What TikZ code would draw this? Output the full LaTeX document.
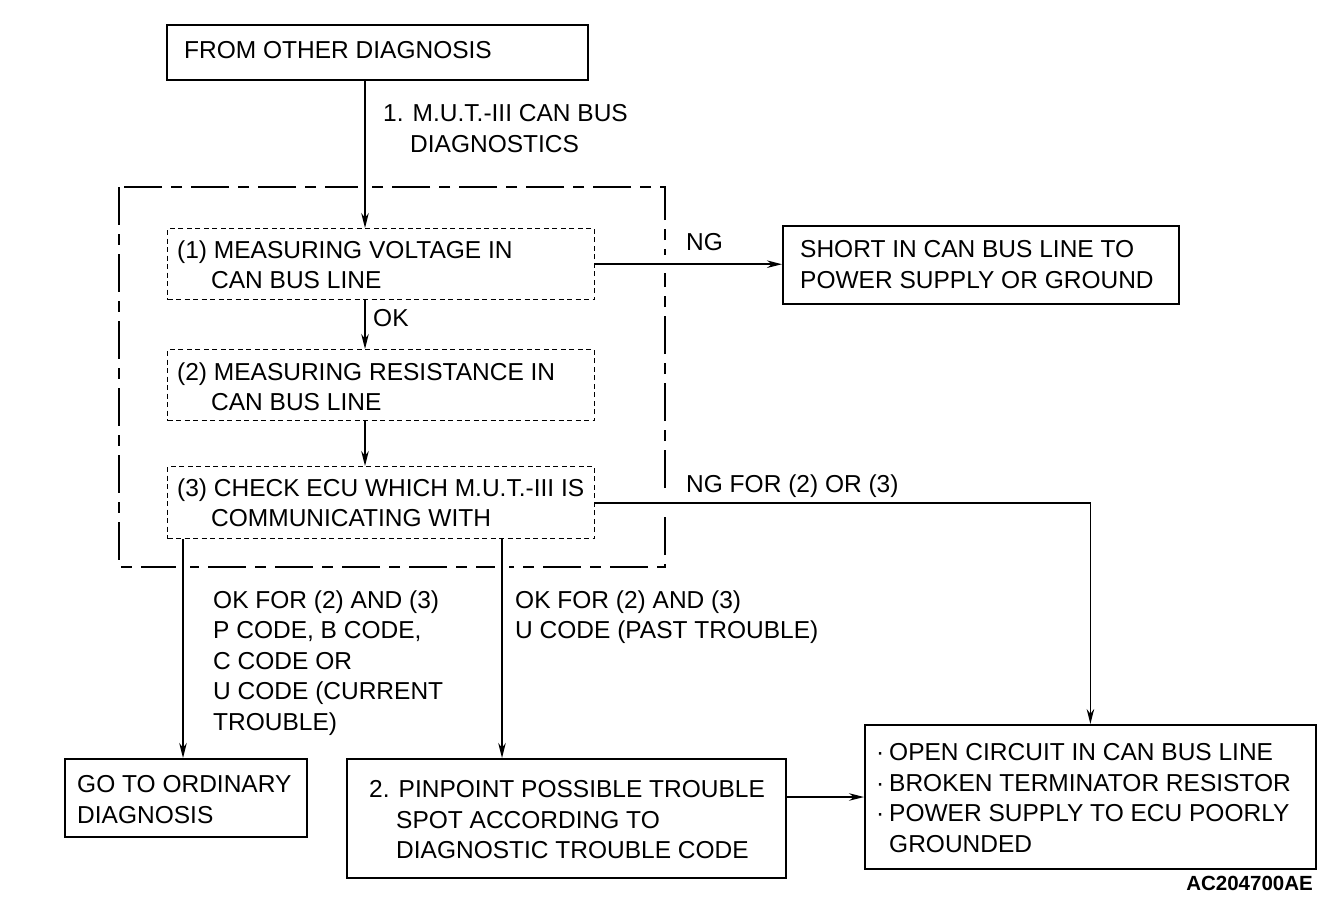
\documentclass[tikz,border=0pt]{standalone}
\usepackage{fontspec}
\setmainfont{Liberation Sans}
\usetikzlibrary{arrows.meta}
\begin{document}
\begin{tikzpicture}[x=1pt,y=-1pt,
  box/.style={draw, line width=1.8pt, rectangle, inner sep=0pt, anchor=north west},
  dbox/.style={draw, line width=1.4pt, dash pattern=on 5pt off 3.5pt, rectangle, inner sep=0pt, anchor=north west},
  txt/.style={inner sep=0pt, anchor=north west, align=left, font=\fontsize{24.5}{30.5}\selectfont},
  conn/.style={line width=1.8pt},
  arr/.style={line width=1.8pt, -{Stealth[length=15pt,width=7.5pt]}},
  frame/.style={line width=2.6pt, dash pattern=on 38pt off 9pt on 11pt off 9pt}
]
\useasboundingbox (0,0) rectangle (1344,902);

% boxes
\node[box, minimum width=421pt, minimum height=55pt] (top) at (166,24) {};
\node[dbox, minimum width=427pt, minimum height=71pt] (b1) at (167,228) {};
\node[dbox, minimum width=427pt, minimum height=71pt] (b2) at (167,349) {};
\node[dbox, minimum width=427pt, minimum height=72pt] (b3) at (167,466) {};
\node[box, minimum width=396pt, minimum height=78pt] (short) at (782,225) {};
\node[box, minimum width=242pt, minimum height=78pt] (goto) at (64,758) {};
\node[box, minimum width=439pt, minimum height=119pt] (pin) at (346,758) {};
\node[box, minimum width=451pt, minimum height=144pt] (open) at (864,724) {};

% dash-dot frame
\draw[frame] (119,187) rectangle (665,567);
% gaps where connectors cross the frame
\fill[white] (358,183) rectangle (372,192);
\fill[white] (660,255) rectangle (670,273);
\fill[white] (660,494) rectangle (670,512);
\fill[white] (176,562) rectangle (190,572);
\fill[white] (495,562) rectangle (509,572);

% texts
\node[txt] (ttop) at (184,41.4) {FROM OTHER DIAGNOSIS};
\node[txt] (tl1) at (383,104.4) {1. M.U.T.-III CAN BUS\\\hspace*{27pt}DIAGNOSTICS};
\node[txt] (tb1) at (177,240.4) {(1) MEASURING VOLTAGE IN\\\hspace*{34pt}CAN BUS LINE};
\node[txt] (tok) at (373,309.4) {OK};
\node[txt] (tb2) at (177,362.4) {(2) MEASURING RESISTANCE IN\\\hspace*{34pt}CAN BUS LINE};
\node[txt] (tb3) at (177,478.4) {(3) CHECK ECU WHICH M.U.T.-III IS\\\hspace*{34pt}COMMUNICATING WITH};
\node[txt] (tng) at (686,233.4) {NG};
\node[txt] (tshort) at (800,240.4) {SHORT IN CAN BUS LINE TO\\POWER SUPPLY OR GROUND};
\node[txt] (tngfor) at (686,474.4) {NG FOR (2) OR (3)};
\node[txt] (tlL) at (213,590.4) {OK FOR (2) AND (3)\\P CODE, B CODE,\\C CODE OR\\U CODE (CURRENT\\TROUBLE)};
\node[txt] (tlM) at (515,590.4) {OK FOR (2) AND (3)\\U CODE (PAST TROUBLE)};
\node[txt] (tgoto) at (77,775.4) {GO TO ORDINARY\\DIAGNOSIS};
\node[txt] (tpin) at (369,780.4) {2. PINPOINT POSSIBLE TROUBLE\\\hspace*{27pt}SPOT ACCORDING TO\\\hspace*{27pt}DIAGNOSTIC TROUBLE CODE};
\node[txt] (topen) at (876,743.4) {\makebox[13pt][l]{·}OPEN CIRCUIT IN CAN BUS LINE\\\makebox[13pt][l]{·}BROKEN TERMINATOR RESISTOR\\\makebox[13pt][l]{·}POWER SUPPLY TO ECU POORLY\\\makebox[13pt][l]{}GROUNDED};
\node[inner sep=0pt, anchor=base east, font=\fontsize{20.5}{24}\selectfont\bfseries] (code) at (1313,890) {AC204700AE};

% connector axes
\coordinate (ax) at (365,0);
\coordinate (axL) at (183,0);
\coordinate (axM) at (502,0);
\coordinate (axP) at (0,797);

% connectors
\draw[arr] (top.south -| ax) -- (b1.north -| ax);
\draw[arr] (b1.south -| ax) -- (b2.north -| ax);
\draw[arr] (b2.south -| ax) -- (b3.north -| ax);
\draw[arr] (b1.east) -- (b1.east -| short.west);
\draw[arr] (b3.east) -| (open.north);
\draw[arr] (b3.south -| axL) -- (goto.north -| axL);
\draw[arr] (b3.south -| axM) -- (pin.north -| axM);
\draw[arr] (pin.east |- axP) -- (open.west |- axP);
\end{tikzpicture}
\end{document}
